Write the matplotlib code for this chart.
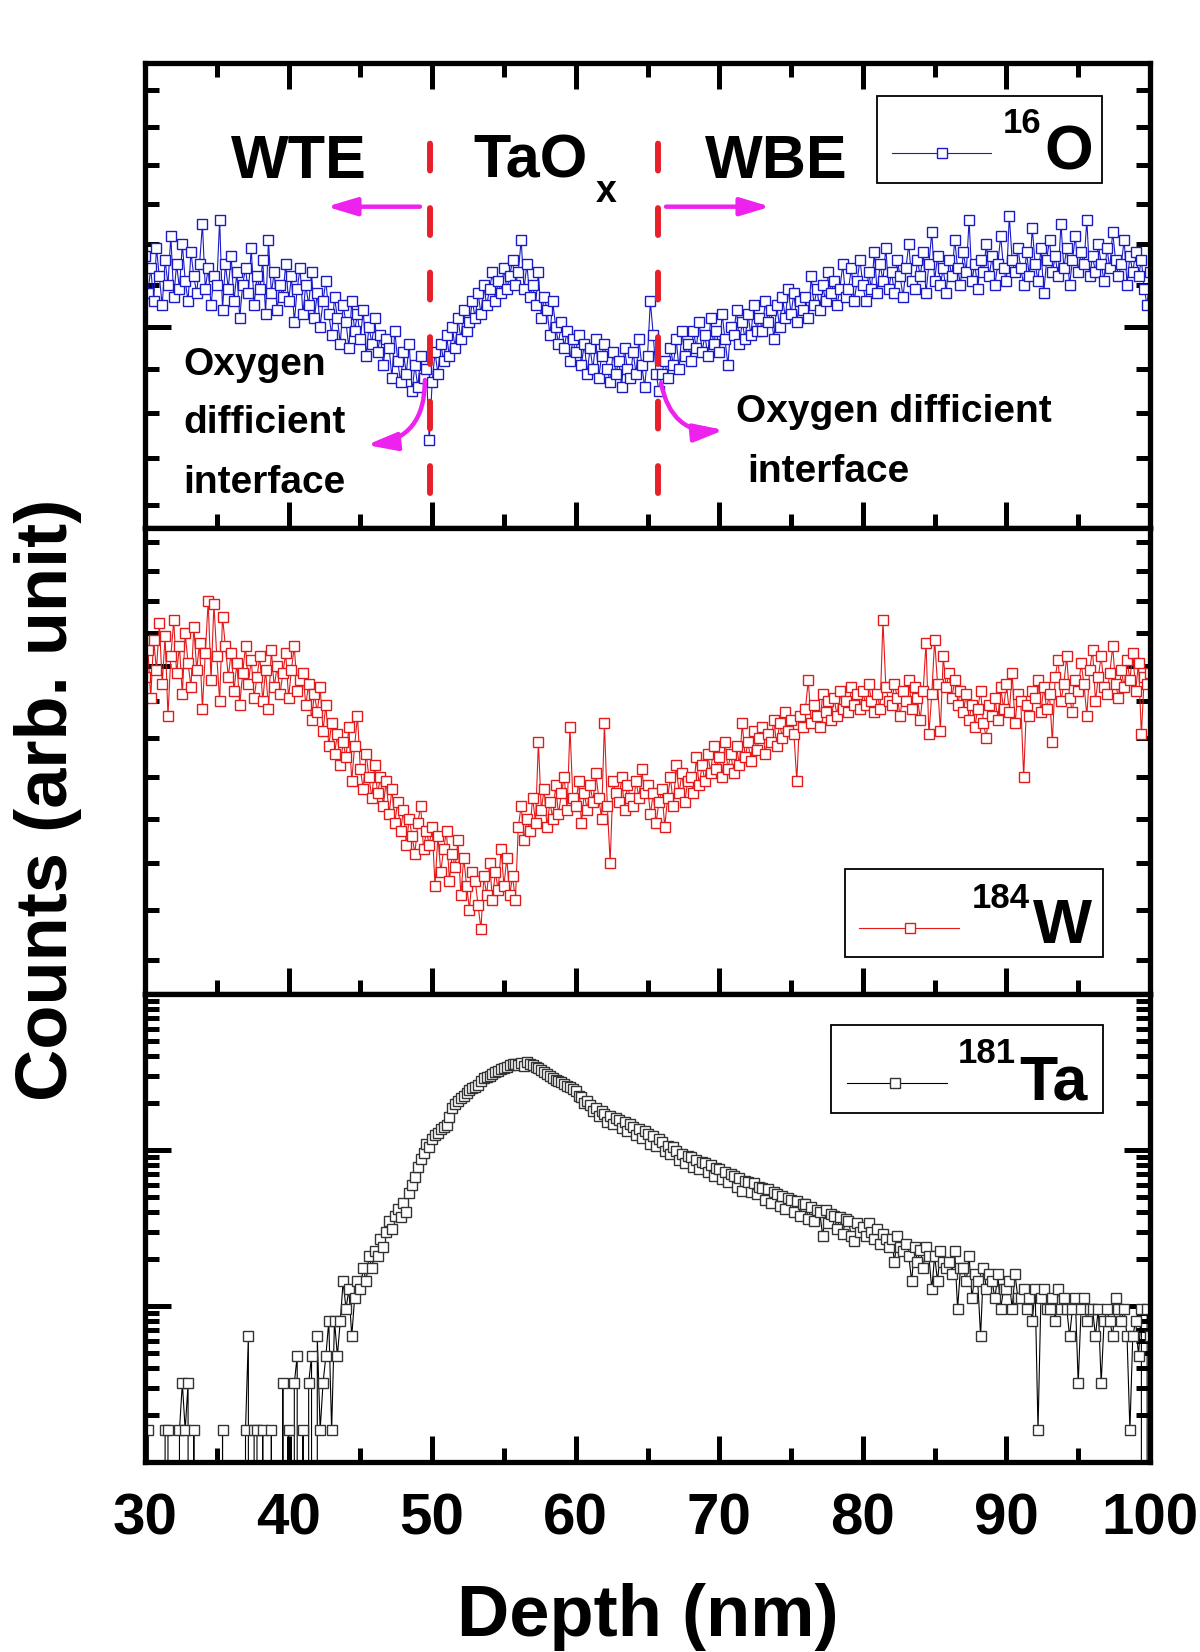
import numpy as np
import matplotlib
matplotlib.use("Agg")
import matplotlib.pyplot as plt
from matplotlib.ticker import FixedLocator, MultipleLocator, LogLocator, NullFormatter
from matplotlib.patches import Rectangle
from matplotlib.lines import Line2D

plt.rcParams['font.family'] = ['Liberation Sans', 'DejaVu Sans']
plt.rcParams['font.weight'] = 'bold'

# ---------------- data ----------------
depth = np.linspace(30.0, 100.0, 351)   # nm, 0.2 nm steps

o16 = [
    41.7, 40.8, 41.4, 40.6, 41.9,  41.2, 40.5, 41.6, 41.0, 42.2,
    40.7, 41.5, 40.9, 42.0, 41.1,  40.6, 41.8, 41.2, 40.8, 41.5,
    42.5, 40.9, 41.4, 40.5, 41.2,  41.0, 42.6, 40.4, 41.5, 40.9,
    41.7, 40.6, 41.3, 40.2, 41.0,  41.4, 40.8, 41.9, 40.5, 41.2,
    40.9, 41.6, 40.3, 42.1, 40.8,  41.3, 40.4, 41.0, 40.7, 41.5,
    40.6, 41.2, 40.1, 40.9, 41.4,  40.3, 41.0, 40.5, 41.3, 40.2,
    40.8, 40.0, 40.6, 41.1, 40.3,  39.8, 40.7, 40.2, 39.6, 40.5,
    40.1, 39.5, 40.6, 39.9, 40.3,  39.7, 40.4, 39.3, 40.0, 39.6,
    40.2, 39.4, 39.8, 39.1, 39.7,  39.5, 38.8, 39.9, 39.2, 38.7,
    39.4, 38.9, 39.6, 38.5, 39.1,  38.6, 39.3, 38.8, 39.0, 37.4,
    38.7, 39.4, 38.9, 39.6, 39.2,  39.8, 39.3, 40.0, 39.5, 40.2,
    39.7, 40.4, 39.9, 40.1, 40.6,  40.2, 40.8, 40.3, 41.0, 40.5,
    40.9, 41.3, 40.6, 41.1, 40.8,  41.4, 40.9, 41.2, 41.6, 41.0,
    41.3, 42.1, 40.9, 41.5, 40.7,  41.0, 40.5, 41.3, 40.2, 40.7,
    40.4, 39.8, 40.6, 40.0, 39.6,  40.1, 39.5, 39.9, 39.2, 39.7,
    39.4, 39.8, 39.1, 39.6, 38.9,  39.5, 39.0, 39.7, 38.8, 39.3,
    39.6, 39.0, 38.7, 39.4, 38.9,  39.2, 38.6, 39.5, 39.0, 38.8,
    39.4, 38.9, 39.7, 39.1, 38.6,  39.3, 40.6, 39.8, 38.9, 38.5,
    38.9, 39.2, 38.8, 39.5, 39.1,  39.7, 39.0, 39.9, 39.3, 39.6,
    39.2, 39.9, 39.5, 40.1, 39.4,  39.8, 39.3, 40.2, 39.6, 39.9,
    39.4, 40.3, 39.7, 39.1, 40.0,  39.8, 40.4, 39.6, 40.1, 39.7,
    40.3, 39.8, 40.5, 39.9, 40.2,  39.9, 40.6, 40.1, 40.4, 39.7,
    40.5, 40.0, 40.7, 40.2, 40.9,  40.3, 40.8, 40.1, 40.6, 40.4,
    40.7, 40.2, 41.2, 40.5, 40.9,  40.4, 41.0, 40.6, 41.3, 40.8,
    41.1, 40.5, 40.9, 41.5, 40.7,  40.9, 41.4, 40.6, 41.1, 41.6,
    41.0, 40.6, 41.3, 40.9, 41.8,  40.8, 41.5, 41.1, 41.9, 40.9,
    41.3, 40.8, 41.6, 41.2, 40.7,  41.4, 42.0, 41.1, 40.9, 41.6,
    41.2, 41.8, 40.8, 41.5, 42.3,  41.1, 41.7, 41.0, 41.4, 40.8,
    41.6, 41.2, 42.1, 41.4, 41.0,  41.8, 41.3, 42.6, 41.1, 41.5,
    40.9, 41.6, 41.3, 42.0, 41.2,  41.7, 41.0, 41.5, 42.2, 41.4,
    41.1, 42.7, 41.6, 41.3, 41.9,  41.4, 41.0, 41.8, 41.2, 42.4,
    41.5, 41.1, 41.9, 40.8, 41.6,  42.1, 41.3, 41.7, 41.2, 42.5,
    41.4, 41.9, 41.0, 41.6, 42.2,  41.3, 41.8, 41.5, 42.6, 41.2,
    41.7, 41.3, 42.0, 41.5, 41.1,  41.9, 41.4, 42.3, 41.6, 41.2,
    41.5, 42.1, 41.0, 41.7, 41.3,  41.8, 41.2, 41.6, 40.9, 40.5,
    41.3,
]

w184 = [
    19.7, 20.5, 19.1, 20.8, 19.9,  21.3, 19.5, 20.9, 18.6, 20.3,
    21.4, 19.8, 20.6, 19.2, 21.0,  20.1, 19.4, 21.2, 19.9, 20.7,
    18.8, 20.4, 22.0, 19.6, 21.9,  20.3, 19.0, 21.5, 20.6, 19.7,
    20.4, 19.3, 20.1, 18.9, 19.8,  20.6, 19.5, 20.2, 19.1, 19.7,
    20.3, 19.0, 19.9, 18.8, 20.5,  19.4, 20.0, 19.2, 19.8, 20.4,
    19.1, 19.9, 20.6, 19.3, 19.6,  19.8, 18.9, 19.5, 18.5, 19.2,
    18.7, 19.4, 18.2, 18.9, 17.8,  18.4, 17.6, 18.1, 17.3, 17.9,
    17.5, 18.3, 16.9, 17.8, 18.6,  17.2, 16.7, 17.6, 17.0, 16.5,
    17.3, 16.6, 17.0, 16.3, 16.9,  16.1, 16.7, 15.9, 16.4, 15.7,
    16.2, 15.4, 16.0, 15.6, 15.2,  15.9, 16.3, 15.3, 15.7, 15.4,
    15.8, 14.5, 15.6, 14.8, 15.3,  15.7, 14.6, 15.2, 14.9, 15.5,
    14.3, 15.1, 14.5, 14.0, 14.8,  14.6, 14.1, 13.6, 14.7, 14.3,
    15.0, 14.2, 14.8, 14.4, 15.3,  14.5, 15.1, 14.3, 14.7, 14.2,
    15.8, 16.3, 15.5, 16.0, 15.7,  16.5, 15.9, 17.9, 16.2, 16.7,
    15.8, 16.4, 16.0, 16.8, 16.1,  16.6, 17.0, 16.2, 18.3, 16.5,
    16.3, 16.9, 15.9, 16.6, 16.2,  16.8, 16.4, 17.1, 16.5, 16.0,
    18.4, 16.3, 15.0, 16.9, 16.6,  16.4, 17.0, 16.2, 16.8, 16.5,
    16.3, 16.9, 16.5, 17.2, 16.6,  16.8, 16.1, 16.6, 15.9, 16.4,
    16.7, 15.8, 16.5, 17.0, 16.3,  17.3, 16.6, 17.1, 16.4, 16.9,
    17.0, 16.6, 17.5, 16.8, 17.3,  16.9, 17.6, 17.1, 17.8, 17.2,
    17.5, 17.0, 17.9, 17.2, 17.6,  17.1, 17.8, 17.3, 18.4, 17.5,
    17.9, 17.4, 18.2, 17.7, 18.0,  18.3, 17.6, 18.1, 17.9, 18.5,
    17.8, 18.4, 18.0, 18.7, 18.2,  18.5, 18.1, 16.9, 18.6, 18.3,
    18.8, 19.6, 18.4, 18.9, 18.6,  18.3, 19.2, 18.7, 19.0, 18.5,
    19.1, 18.6, 19.3, 18.8, 19.0,  18.7, 19.4, 18.9, 19.2, 18.8,
    19.3, 18.9, 19.5, 19.0, 18.7,  19.2, 18.8, 21.4, 19.4, 19.0,
    18.9, 19.5, 19.1, 18.6, 19.3,  19.0, 19.6, 18.8, 19.4, 19.1,
    18.5, 19.3, 20.7, 18.1, 19.2,  20.8, 19.5, 18.2, 20.3, 19.4,
    19.8, 19.1, 19.6, 18.9, 19.3,  18.7, 19.2, 18.5, 18.9, 18.3,
    18.8, 19.3, 18.4, 18.0, 18.9,  18.6, 19.1, 18.5, 19.4, 18.8,
    19.5, 18.7, 19.8, 18.4, 19.2,  19.0, 17.0, 18.9, 18.6, 19.3,
    19.1, 19.6, 18.7, 19.4, 18.8,  19.2, 17.9, 19.7, 20.2, 19.0,
    19.5, 20.3, 19.1, 18.7, 19.6,  19.3, 20.1, 19.5, 18.6, 19.9,
    20.5, 19.0, 19.7, 20.3, 19.4,  19.2, 19.8, 20.6, 19.5, 19.1,
    19.9, 19.4, 20.2, 19.6, 20.4,  19.3, 20.1, 18.1, 19.7, 19.5,
    19.8,
]

ta181 = [
    0, 1.6, 0, 0, 0,  0, 0, 1.6, 1.6, 0,
    0, 0, 1.6, 3.2, 1.6,  3.2, 0, 1.6, 0, 0,
    0, 0, 0, 0, 0,  0, 0, 1.6, 0, 0,
    0, 0, 0, 0, 0,  1.6, 6.4, 0, 1.6, 1.6,
    0, 1.6, 0, 0, 1.6,  0, 0, 0, 3.2, 0,
    1.6, 0, 3.2, 4.8, 0,  1.6, 0, 3.2, 4.8, 0,
    6.4, 1.6, 3.2, 4.8, 8.0,  1.6, 8.0, 4.8, 8.0, 14.4,
    9.6, 12.8, 6.4, 11.2, 14.4,  12.8, 17.6, 14.4, 20.8, 17.6,
    22.4, 20.8, 27, 24, 30,  35, 31, 38, 42, 37,
    46, 40, 53, 60, 67,  78, 88, 96, 110, 104,
    118, 124, 128, 136, 140,  145, 162, 185, 198, 205,
    215, 222, 232, 242, 248,  252, 262, 275, 288, 292,
    300, 308, 315, 322, 332,  335, 342, 350, 355, 358,
    352, 362, 348, 365, 358,  350, 342, 334, 325, 318,
    305, 298, 290, 282, 276,  272, 265, 258, 252, 246,
    240, 222, 218, 200, 205,  195, 178, 186, 165, 178,
    170, 152, 166, 146, 160,  156, 138, 151, 132, 146,
    140, 124, 137, 120, 132,  126, 110, 123, 106, 118,
    112, 98, 106, 94, 104,  99, 86, 94, 82, 91,
    90, 78, 86, 75, 84,  82, 72, 80, 68, 77,
    76, 65, 72, 62, 70,  68, 58, 66, 55, 63,
    62, 54, 61, 52, 58,  57, 48, 56, 46, 54,
    52, 44, 51, 42, 49,  48, 40, 47, 38, 45,
    45, 36, 43, 35, 41,  40, 28, 41, 34, 39,
    38, 31, 37, 29, 36,  35, 28, 26, 34, 30,
    32, 28, 34, 30, 27,  31, 25, 29, 27, 24,
    27, 19.2, 28, 24, 22.4,  25, 20.8, 14.4, 24, 19.2,
    23, 17.6, 24, 20.8, 12.8,  21, 14.4, 22.4, 19.2, 17.6,
    19.2, 16.0, 22.4, 9.6, 17.6,  17.6, 14.4, 20.8, 11.2, 16.0,
    14.4, 6.4, 17.6, 12.8, 16.0,  14.4, 11.2, 16.0, 9.6, 12.8,
    12.8, 14.4, 9.6, 16.0, 11.2,  11.2, 12.8, 9.6, 11.2, 8.0,
    12.8, 1.6, 11.2, 12.8, 9.6,  9.6, 11.2, 8.0, 12.8, 9.6,
    11.2, 9.6, 6.4, 9.6, 11.2,  3.2, 9.6, 11.2, 8.0, 9.6,
    9.6, 6.4, 9.6, 3.2, 8.0,  9.6, 8.0, 6.4, 11.2, 9.6,
    8.0, 9.6, 6.4, 1.6, 6.4,  8.0, 4.8, 9.6, 0, 9.6,
    6.4,
]

x_ticks = [30, 40, 50, 60, 70, 80, 90, 100]
interfaces = [49.85, 65.7]

# ---------------- style ----------------
FIG_W, FIG_H = 1200, 1652
BLUE = '#1a1ac8'
RED = '#e41a1a'
BLACK = '#000000'
MAGENTA = '#ee22ee'
DASHRED = '#e8202a'

def fx(x):
    return x / FIG_W

def fy(y):
    return 1 - y / FIG_H

L, R = 145, 1150
def box(top, bot):
    return [fx(L), fy(bot), fx(R) - fx(L), fy(top) - fy(bot)]

fig = plt.figure(figsize=(FIG_W / 100, FIG_H / 100), dpi=100)
ax1 = fig.add_axes(box(63, 528))
ax2 = fig.add_axes(box(528, 994))
ax3 = fig.add_axes(box(994, 1462))

mk = dict(marker='s', ms=7.4, mew=1.0, mfc='white', lw=0.8)
ax1.plot(depth, o16, color=BLUE, **mk)
ax2.plot(depth, w184, color=RED, **mk)
ax3.plot(depth, ta181, color=BLACK, mec='#333333', **mk)

ax1.set_yscale('log')
ax1.set_ylim(35.51, 46.74)
ax1.yaxis.set_major_locator(FixedLocator([40]))
ax1.yaxis.set_minor_locator(FixedLocator(np.arange(36, 47)))

ax2.set_yscale('log')
ax2.set_ylim(12.37, 24.5)
ax2.yaxis.set_major_locator(FixedLocator([20]))
ax2.yaxis.set_minor_locator(FixedLocator(np.arange(13, 25)))

ax3.set_yscale('log')
ax3.set_ylim(1, 1000)
ax3.yaxis.set_major_locator(LogLocator(base=10, numticks=10))
ax3.yaxis.set_minor_locator(LogLocator(base=10, subs=np.arange(2, 10), numticks=30))

for ax in (ax1, ax2, ax3):
    ax.set_xlim(30, 100)
    ax.xaxis.set_major_locator(FixedLocator(x_ticks))
    ax.xaxis.set_minor_locator(MultipleLocator(5))
    ax.yaxis.set_major_formatter(NullFormatter())
    ax.yaxis.set_minor_formatter(NullFormatter())
    for s in ax.spines.values():
        s.set_linewidth(3.8)
    ax.tick_params(which='both', direction='in', right=True, left=True,
                   bottom=True, top=(ax is ax1), width=3.6,
                   labelleft=False, labelbottom=(ax is ax3))
    ax.tick_params(which='major', length=19)
    ax.tick_params(which='minor', length=10)

ax3.tick_params(axis='x', which='major', labelsize=42, pad=22)
for t in ax3.get_xticklabels():
    t.set_fontweight('bold')

ax3.set_xlabel('Depth (nm)', fontsize=52, fontweight='bold')
ax3.xaxis.set_label_coords(0.5, -0.258)
ax2.set_ylabel('Counts (arb. unit)', fontsize=52, fontweight='bold')
ax2.yaxis.set_label_coords(-0.063, 0.416)

# ---------------- annotations in top panel ----------------
for xi in interfaces:
    ax1.axvline(xi, ymin=0.0753, ymax=0.8387, color=DASHRED, lw=4.3,
                dashes=(4.5, 6.3), dash_capstyle='round', zorder=4)

def yf1(py):
    return (528 - py) / 465.0

def txt(px_x, px_y, s, size, ha='left'):
    fig.text(fx(px_x), fy(px_y), s, fontsize=size, fontweight='bold',
             ha=ha, va='baseline', zorder=10)

txt(299, 178, 'WTE', 44, ha='center')
txt(473, 178, 'TaO', 44)
txt(596, 202, 'x', 27)
txt(776, 178, 'WBE', 44, ha='center')
txt(183, 375, 'Oxygen', 28)
txt(183, 433, 'difficient', 28)
txt(183, 493, 'interface', 28)
txt(736, 422, 'Oxygen difficient', 28)
txt(747, 482, 'interface', 28)

aprops = dict(arrowstyle='-|>,head_length=0.6,head_width=0.18', color=MAGENTA,
              lw=3.2, mutation_scale=30, shrinkA=0, shrinkB=0)
coords = ('data', 'axes fraction')
ax1.annotate('', xy=(42.65, yf1(206.7)), xytext=(49.15, yf1(206.7)),
             xycoords=coords, textcoords=coords,
             arrowprops=dict(**aprops, connectionstyle='arc3,rad=0'))
ax1.annotate('', xy=(73.56, yf1(206.7)), xytext=(66.29, yf1(206.7)),
             xycoords=coords, textcoords=coords,
             arrowprops=dict(**aprops, connectionstyle='arc3,rad=0'))
ax1.annotate('', xy=(45.44, yf1(445)), xytext=(49.50, yf1(380)),
             xycoords=coords, textcoords=coords,
             arrowprops=dict(**aprops, connectionstyle='arc3,rad=-0.45'))
ax1.annotate('', xy=(70.33, yf1(430)), xytext=(65.94, yf1(383)),
             xycoords=coords, textcoords=coords,
             arrowprops=dict(**aprops, connectionstyle='arc3,rad=0.45'))

# ---------------- legends (framed keys) ----------------
def legend_key(x0, x1, y0, y1, lx0, lx1, ly, mx, color, mec):
    fig.add_artist(Rectangle((fx(x0), fy(y1)), fx(x1) - fx(x0), fy(y0) - fy(y1),
                             transform=fig.transFigure, fc='white', ec='black',
                             lw=1.3, zorder=5))
    fig.add_artist(Line2D([fx(lx0), fx(lx1)], [fy(ly), fy(ly)],
                          transform=fig.transFigure, color=color, lw=0.8, zorder=6))
    fig.add_artist(Line2D([fx(mx)], [fy(ly)], transform=fig.transFigure,
                          marker='s', ms=7.4, mew=1.0, mfc='white', mec=mec,
                          ls='none', zorder=7))

legend_key(877, 1102, 96, 183, 892, 991, 153, 942, BLUE, BLUE)
txt(1003, 133, '16', 25)
txt(1044, 170, 'O', 45)

legend_key(845, 1103, 869, 957, 859, 959, 928, 910, RED, RED)
txt(972, 908, '184', 25)
txt(1033, 943, 'W', 45)

legend_key(831, 1103, 1025, 1113, 847, 947, 1083, 895, BLACK, '#333333')
txt(958, 1063, '181', 25)
txt(1019, 1100, 'Ta', 45)

fig.savefig('out.png', dpi=100)
